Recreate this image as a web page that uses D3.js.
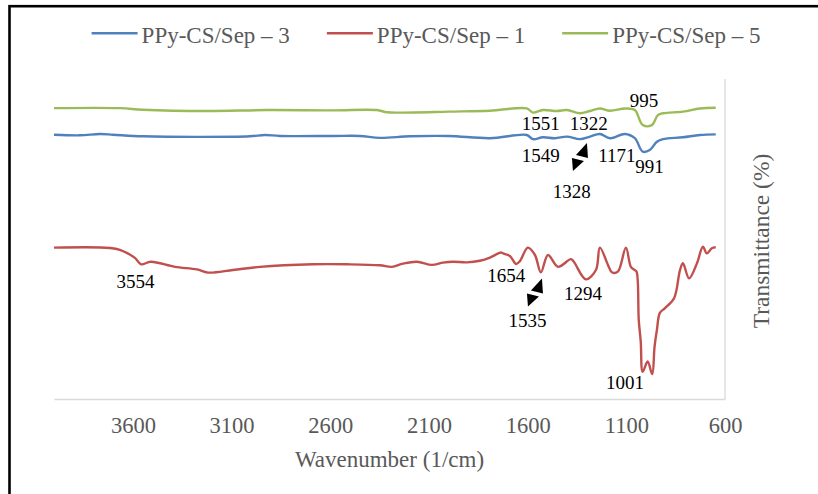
<!DOCTYPE html>
<html>
<head>
<meta charset="utf-8">
<script src="https://cdn.jsdelivr.net/npm/d3@7"></script>
<style>
  body { margin: 0; background: #fff; }
  svg text { font-family: "Liberation Serif", "Times New Roman", serif; }
</style>
</head>
<body>
<div id="chart"></div>
<script>
// series names, in legend order
const seriesNames = ['PPy-CS/Sep \u2013 3', 'PPy-CS/Sep \u2013 1', 'PPy-CS/Sep \u2013 5'];
const seriesColors = ['#4F81BD', '#C0504D', '#9BBB59'];

// [wavenumber, transmittance]
const sep3 = [[4000,82.6],[3868,82.4],[3767,82.8],[3701,82.6],[3549,82.1],[3260,81.9],[3007,82.1],
  [2931,82.5],[2855,82.2],[2587,82.2],[2450,82.2],[2349,81.6],[2197,82.1],[2000,82.2],[1791,81.5],
  [1604,82.5],[1573,81.2],[1523,81.8],[1462,81.5],[1401,82.0],[1335,81.2],[1284,82.0],[1234,82.8],
  [1183,81.5],[1107,82.8],[1057,81.5],[1017,77.3],[981,77.8],[945,80.4],[914,81.2],[813,81.8],
  [727,82.5],[647,82.7]];

const sep1 = [[4000,47.3],[3716,47.2],[3666,46.6],[3590,44.1],[3559,42.1],[3509,42.9],[3387,41.3],
  [3276,40.5],[3220,39.5],[3093,40.3],[2956,41.3],[2688,42.1],[2516,42.1],[2349,41.8],[2288,41.3],
  [2232,42.3],[2161,42.9],[2085,41.9],[2029,42.6],[1979,42.9],[1908,42.7],[1842,43.2],[1791,44.2],
  [1735,45.8],[1725,45.5],[1690,44.7],[1659,42.2],[1639,43.1],[1599,47.3],[1563,45.0],[1533,39.6],
  [1497,45.0],[1446,41.3],[1381,43.7],[1366,42.9],[1305,37.4],[1254,40.3],[1234,47.3],[1193,41.9],
  [1173,39.6],[1143,39.8],[1102,47.3],[1077,41.3],[1057,40.3],[1048,39.8],[1037,24.7],[1027,18.0],
  [1017,8.5],[992,11.7],[969,7.8],[957,16.3],[945,21.6],[930,26.9],[904,28.4],[858,31.5],[828,40.3],
  [813,42.4],[782,37.7],[742,42.4],[712,47.6],[692,45.5],[667,47.1],[647,47.4]];

const sep5 = [[4000,90.9],[3666,90.9],[3549,90.4],[3225,90.0],[2921,90.3],[2587,90.2],[2364,90.3],
  [2313,89.6],[2232,89.5],[2000,89.8],[1791,90.1],[1604,90.8],[1573,89.5],[1523,90.3],[1452,90.0],
  [1401,90.3],[1335,89.3],[1284,90.0],[1234,90.8],[1183,90.1],[1107,90.8],[1057,90.3],[1017,85.6],
  [971,85.6],[940,88.7],[914,89.3],[813,89.8],[727,90.8],[647,91.0]];

const xTicks = [3600, 3100, 2600, 2100, 1600, 1100, 600];

// peak labels: text, wavenumber, transmittance of the label
const peakLabels = [
  ['3554', 3587, 34.6], ['1654', 1709, 36.5], ['1535', 1601, 22.4], ['1294', 1320, 30.9],
  ['1001', 1107, 3.0], ['995', 1011, 91.3], ['1551', 1533, 84.1], ['1322', 1290, 84.1],
  ['1549', 1533, 74.2], ['1171', 1148, 74.2], ['991', 982, 70.5], ['1328', 1376, 62.7]
];
// double arrows: wavenumber, transmittance of their centre
const peakArrows = [[1335, 75.6], [1563, 33.3]];

const width = 818, height = 494;
const margin = {left: 54, right: 93, top: 79, bottom: 95};

const svg = d3.select('#chart').append('svg')
  .attr('width', width)
  .attr('height', height);

// outer frame (only top and left edges visible)
svg.append('rect')
  .attr('x', 9.5).attr('y', 6.2)
  .attr('width', 900).attr('height', 600)
  .attr('fill', 'none')
  .attr('stroke', '#000')
  .attr('stroke-width', 2.6);

const x = d3.scaleLinear().domain([4000, 600]).range([margin.left, width - margin.right]);
const y = d3.scaleLinear().domain([0, 100]).range([height - margin.bottom, margin.top]);

// plot borders
svg.append('line')
  .attr('x1', x(600)).attr('x2', x(600))
  .attr('y1', y(100)).attr('y2', y(0))
  .attr('stroke', '#d9d9d9').attr('stroke-width', 1.3);

const xAxis = svg.append('g')
  .attr('transform', 'translate(0,' + y(0) + ')')
  .call(d3.axisBottom(x).tickValues(xTicks).tickSize(0).tickPadding(18).tickFormat(d3.format('d')));
xAxis.select('.domain').attr('stroke', '#d9d9d9').attr('stroke-width', 1.3);
xAxis.selectAll('text')
  .attr('fill', '#595959')
  .style('font-size', '22.5px')
  .style('font-family', '"Liberation Serif", serif');

svg.append('text')
  .attr('x', (x(4000) + x(600)) / 2)
  .attr('y', 466.5)
  .attr('text-anchor', 'middle')
  .attr('fill', '#595959')
  .style('font-size', '23px')
  .text('Wavenumber (1/cm)');

svg.append('text')
  .attr('transform', 'translate(769,' + ((y(0) + y(100)) / 2 + 2) + ') rotate(-90)')
  .attr('text-anchor', 'middle')
  .attr('fill', '#595959')
  .style('font-size', '23.5px')
  .text('Transmittance (%)');

// lines
const line = d3.line()
  .x(d => x(d[0]))
  .y(d => y(d[1]))
  .curve(d3.curveCatmullRom.alpha(0.5));

const allSeries = [sep3, sep1, sep5];
svg.append('g')
  .selectAll('path')
  .data(allSeries)
  .join('path')
  .attr('d', line)
  .attr('fill', 'none')
  .attr('stroke', (d, i) => seriesColors[i])
  .attr('stroke-width', 2.4)
  .attr('stroke-linejoin', 'round');

// peak labels
svg.append('g')
  .selectAll('text')
  .data(peakLabels)
  .join('text')
  .attr('x', d => x(d[1]))
  .attr('y', d => y(d[2]))
  .attr('text-anchor', 'middle')
  .attr('fill', '#000')
  .style('font-size', '19px')
  .text(d => d[0]);

// double arrow heads
const arrows = svg.append('g')
  .selectAll('g')
  .data(peakArrows)
  .join('g')
  .attr('transform', d => 'translate(' + x(d[0]) + ',' + y(d[1]) + ')');
arrows.append('path')
  .attr('d', 'M7,-14 L-4,-2 L8,1 Z')
  .attr('fill', '#000');
arrows.append('path')
  .attr('d', 'M-7,14 L-8,1 L4,4 Z')
  .attr('fill', '#000');

// legend
const legendWidths = [];
const legend = svg.append('g');
const items = legend.selectAll('g')
  .data(seriesNames)
  .join('g');
items.append('line')
  .attr('x1', 0).attr('x2', 46)
  .attr('y1', 33.3).attr('y2', 33.3)
  .attr('stroke', (d, i) => seriesColors[i])
  .attr('stroke-width', 2.4);
items.append('text')
  .attr('x', 50)
  .attr('y', 43.3)
  .attr('fill', '#595959')
  .style('font-size', '23px')
  .text(d => d)
  .each(function() { legendWidths.push(this.getComputedTextLength()); });

let offset = 0;
items.attr('transform', (d, i) => {
  const t = 'translate(' + offset + ',0)';
  offset += 50 + legendWidths[i] + 37;
  return t;
});
const totalW = offset - 37;
legend.attr('transform', 'translate(' + (426 - totalW / 2) + ',0)');
</script>
</body>
</html>
